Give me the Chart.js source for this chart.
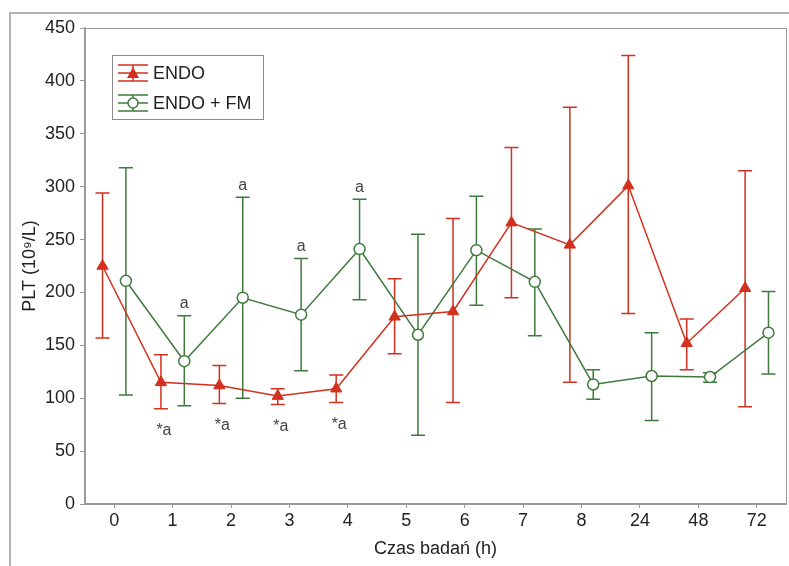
<!DOCTYPE html>
<html>
<head>
<meta charset="utf-8">
<script src="https://cdn.jsdelivr.net/npm/chart.js@4/dist/chart.umd.min.js"></script>
<style>
  html, body { margin: 0; padding: 0; background: #fff; }
  #wrap  { position: relative; width: 789px; height: 566px; overflow: hidden; }
  #frame { position: absolute; left: 9px; top: 12px; width: 900px; height: 700px;
           border-left: 2px solid #b4b4b4; border-top: 2px solid #b4b4b4; }
  #chart { position: absolute; left: 0; top: 0; }
</style>
</head>
<body>
<div id="wrap">
  <div id="frame"></div>
  <canvas id="chart" width="789" height="566"></canvas>
</div>
<script>
/* ── Data ── */
const TIME_LABELS = ["0", "1", "2", "3", "4", "5", "6", "7", "8", "24", "48", "72"];

const ENDO_MEAN  = [225, 115, 112, 102, 109, 177, 182, 266, 245, 301, 152, 204];
const ENDO_UPPER = [294, 141, 131, 109, 122, 213, 270, 337, 375, 424, 175, 315];
const ENDO_LOWER = [157,  90,  95,  94,  96, 142,  96, 195, 115, 180, 127,  92];
const ENDO_MARKS = ["", "*a", "*a", "*a", "*a", "", "", "", "", "", "", ""];

const FM_MEAN  = [211, 135, 195, 179, 241, 160, 240, 210, 113, 121, 120, 162];
const FM_UPPER = [318, 178, 290, 232, 288, 255, 291, 260, 127, 162, 124, 201];
const FM_LOWER = [103,  93, 100, 126, 193,  65, 188, 159,  99,  79, 115, 123];
const FM_MARKS = ["", "a", "a", "a", "a", "", "", "", "", "", "", ""];

const Y_TICKS = [0, 50, 100, 150, 200, 250, 300, 350, 400, 450];

/* ── Styles ── */
const COLORS = {
  red:   "#d3301e",
  green: "#3f7a3c",
  axis:  "#9a9a9a",
  text:  "#222222",
  note:  "#444444",
};
const FONT = "'Liberation Sans', Arial, sans-serif";
const OFFSET = 0.2;   // side shift of the two series within a time slot

function toPoints(values, shift) {
  return values.map((v, i) => ({ x: i + shift, y: v }));
}

/* ── Error bars + notes ── */
const errorBars = {
  id: "errorBars",
  beforeDatasetsDraw(chart) {
    const ctx = chart.ctx;
    const y   = chart.scales.y;
    chart.data.datasets.forEach((ds, di) => {
      const meta = chart.getDatasetMeta(di);
      ctx.save();
      ctx.strokeStyle = ds.borderColor;
      ctx.lineWidth = 1.5;
      meta.data.forEach((pt, i) => {
        const yt = y.getPixelForValue(ds.upper[i]);
        const yb = y.getPixelForValue(ds.lower[i]);
        ctx.beginPath();
        ctx.moveTo(pt.x, yt); ctx.lineTo(pt.x, yb);
        ctx.moveTo(pt.x - 7, yt); ctx.lineTo(pt.x + 7, yt);
        ctx.moveTo(pt.x - 7, yb); ctx.lineTo(pt.x + 7, yb);
        ctx.stroke();
      });
      ctx.restore();
    });
  },
  afterDatasetsDraw(chart) {
    const ctx = chart.ctx;
    const y   = chart.scales.y;
    ctx.save();
    ctx.fillStyle = COLORS.note;
    ctx.font = "16px " + FONT;
    ctx.textAlign = "center";
    ctx.textBaseline = "middle";
    chart.data.datasets.forEach((ds, di) => {
      const meta = chart.getDatasetMeta(di);
      meta.data.forEach((pt, i) => {
        const mark = ds.marks[i];
        if (!mark) return;
        if (ds.marksBelow) {
          ctx.fillText(mark, pt.x + 3, y.getPixelForValue(ds.lower[i]) + 22);
        } else {
          ctx.fillText(mark, pt.x, y.getPixelForValue(ds.upper[i]) - 12);
        }
      });
    });

    // plot frame
    const a = chart.chartArea;
    ctx.strokeStyle = COLORS.axis;
    ctx.lineWidth = 1;
    ctx.strokeRect(a.left + 0.5, a.top + 0.5, a.right - a.left, a.bottom - a.top);
    ctx.restore();
  },
};

/* ── Legend box inside plot ── */
const legendBox = {
  id: "legendBox",
  afterDraw(chart) {
    const ctx = chart.ctx;
    ctx.save();
    ctx.strokeStyle = "#8c8c8c";
    ctx.lineWidth = 1;
    ctx.strokeRect(112.5, 55.5, 151, 64);

    const rows = [
      { label: "ENDO",      color: COLORS.red,   y: 73,  tri: true },
      { label: "ENDO + FM", color: COLORS.green, y: 103, tri: false },
    ];
    rows.forEach(r => {
      ctx.strokeStyle = r.color;
      ctx.lineWidth = 1.5;
      ctx.beginPath();
      ctx.moveTo(118, r.y - 8); ctx.lineTo(148, r.y - 8);
      ctx.moveTo(118, r.y);     ctx.lineTo(148, r.y);
      ctx.moveTo(118, r.y + 8); ctx.lineTo(148, r.y + 8);
      ctx.moveTo(133, r.y - 8); ctx.lineTo(133, r.y + 8);
      ctx.stroke();
      ctx.beginPath();
      if (r.tri) {
        ctx.fillStyle = r.color;
        ctx.moveTo(133, r.y - 6); ctx.lineTo(139, r.y + 5); ctx.lineTo(127, r.y + 5);
        ctx.closePath();
        ctx.fill();
      } else {
        ctx.fillStyle = "#fff";
        ctx.arc(133, r.y, 5, 0, Math.PI * 2);
        ctx.fill();
        ctx.stroke();
      }
      ctx.fillStyle = COLORS.text;
      ctx.font = "18px " + FONT;
      ctx.textAlign = "left";
      ctx.textBaseline = "middle";
      ctx.fillText(r.label, 153, r.y + 1);
    });
    ctx.restore();
  },
};

/* ── Chart ── */
new Chart(document.getElementById("chart"), {
  type: "line",
  data: {
    datasets: [
      {
        label: "ENDO",
        data: toPoints(ENDO_MEAN, -OFFSET),
        upper: ENDO_UPPER,
        lower: ENDO_LOWER,
        marks: ENDO_MARKS,
        marksBelow: true,
        borderColor: COLORS.red,
        backgroundColor: COLORS.red,
        borderWidth: 1.5,
        pointStyle: "triangle",
        pointRadius: 6.5,
        pointBackgroundColor: COLORS.red,
        pointBorderColor: COLORS.red,
        pointBorderWidth: 1,
        tension: 0,
      },
      {
        label: "ENDO + FM",
        data: toPoints(FM_MEAN, OFFSET),
        upper: FM_UPPER,
        lower: FM_LOWER,
        marks: FM_MARKS,
        marksBelow: false,
        borderColor: COLORS.green,
        backgroundColor: "#fff",
        borderWidth: 1.5,
        pointStyle: "circle",
        pointRadius: 5.5,
        pointBackgroundColor: "#fff",
        pointBorderColor: COLORS.green,
        pointBorderWidth: 1.5,
        tension: 0,
      },
    ],
  },
  options: {
    responsive: false,
    animation: false,
    events: [],
    layout: { autoPadding: false, padding: { top: 28, right: 3, left: 0, bottom: 0 } },
    plugins: {
      legend:  { display: false },
      tooltip: { enabled: false },
    },
    scales: {
      x: {
        type: "linear",
        min: -0.5,
        max: TIME_LABELS.length - 0.5,
        afterBuildTicks: s => { s.ticks = TIME_LABELS.map((_, i) => ({ value: i })); },
        afterFit: s => { s.height = 62; s.paddingLeft = 0; s.paddingRight = 0; },
        ticks: {
          callback: v => TIME_LABELS[v],
          color: COLORS.text,
          font: { family: FONT, size: 18 },
          padding: 2,
          maxRotation: 0,
          autoSkip: false,
        },
        grid:   { drawOnChartArea: false, tickLength: 4, color: COLORS.axis },
        border: { color: COLORS.axis, width: 1.5 },
        title: {
          display: true,
          text: "Czas badań (h)",
          color: COLORS.text,
          font: { family: FONT, size: 18 },
          padding: { top: 0, bottom: 6 },
        },
      },
      y: {
        min: 0,
        max: 450,
        afterBuildTicks: s => { s.ticks = Y_TICKS.map(v => ({ value: v })); },
        afterFit: s => { s.width = 85; },
        ticks: {
          color: COLORS.text,
          font: { family: FONT, size: 18 },
          padding: 5,
        },
        grid:   { drawOnChartArea: false, tickLength: 5, color: COLORS.axis },
        border: { color: COLORS.axis, width: 1.5 },
        title: {
          display: true,
          text: "PLT (10⁹/L)",
          color: COLORS.text,
          font: { family: FONT, size: 18 },
          padding: { top: 19, bottom: 0 },
        },
      },
    },
  },
  plugins: [errorBars, legendBox],
});
</script>
</body>
</html>
